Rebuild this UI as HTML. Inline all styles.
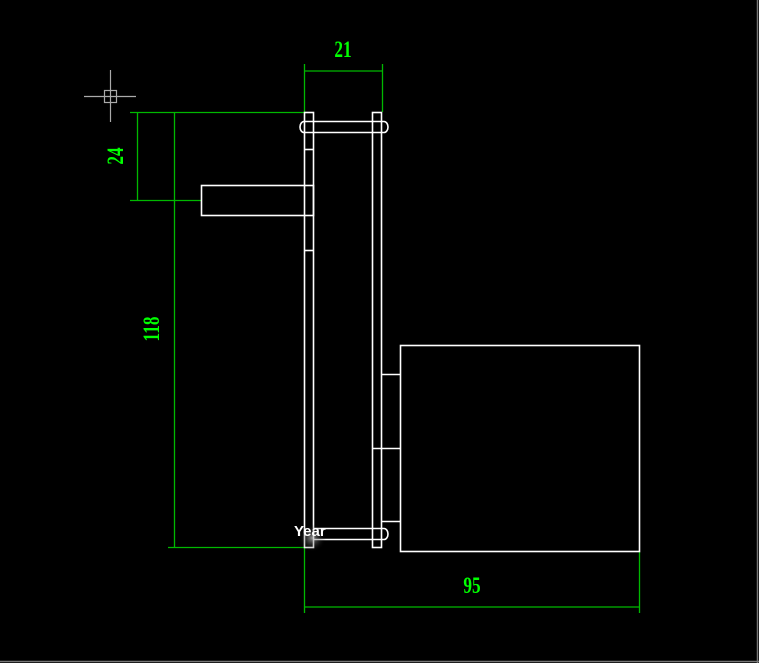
<!DOCTYPE html>
<html><head><meta charset="utf-8"><style>
html,body{margin:0;padding:0;background:#000;width:759px;height:663px;overflow:hidden}
svg{display:block}
.d{font-family:"Liberation Serif",serif;fill:#00ff00;font-size:23px;font-weight:bold}
</style></head><body>
<svg width="759" height="663" viewBox="0 0 759 663" xmlns="http://www.w3.org/2000/svg">
<rect width="759" height="663" fill="#000"/>
<line x1="757.5" y1="0" x2="757.5" y2="663" stroke="#777" stroke-width="1.5"/>
<line x1="0" y1="661.5" x2="759" y2="661.5" stroke="#777" stroke-width="1.5"/>
<g stroke="#aaa" stroke-width="1.2" fill="none">
<line x1="84" y1="96.5" x2="136" y2="96.5"/><line x1="110.5" y1="70" x2="110.5" y2="122"/>
<rect x="104.5" y="90.5" width="12" height="12"/>
</g>
<g stroke="#00b800" stroke-width="1.3" fill="none">
<line x1="304.5" y1="64" x2="304.5" y2="112"/><line x1="382.5" y1="64" x2="382.5" y2="112"/>
<line x1="304" y1="71" x2="383" y2="71"/>
<line x1="130" y1="112.5" x2="305" y2="112.5"/>
<line x1="130" y1="200.5" x2="202" y2="200.5"/>
<line x1="137.5" y1="112" x2="137.5" y2="201"/>
<line x1="174.5" y1="112" x2="174.5" y2="548"/>
<line x1="168" y1="547.5" x2="304" y2="547.5"/>
<line x1="304.5" y1="548" x2="304.5" y2="613"/>
<line x1="639.5" y1="552" x2="639.5" y2="613"/>
<line x1="304" y1="607" x2="640" y2="607"/>
</g>
<text class="d" x="343" y="57" text-anchor="middle" transform="translate(343 0) scale(0.75 1) translate(-343 0)">21</text>
<text class="d" x="472" y="593" text-anchor="middle" transform="translate(472 0) scale(0.75 1) translate(-472 0)">95</text>
<text class="d" text-anchor="middle" transform="translate(123 156) rotate(-90) scale(0.75 1)">24</text>
<text class="d" text-anchor="middle" transform="translate(159 329) rotate(-90) scale(0.75 1)">118</text>
<g stroke="#fff" stroke-width="1.6" fill="none">
<rect x="304.5" y="112.5" width="9" height="435"/>
<rect x="372.5" y="112.5" width="9" height="435"/>
<path d="M304 121.5 H384 A4 5.5 0 0 1 384 132.5 H304 A4 5.5 0 0 1 304 121.5 Z"/>
<path d="M313 528.5 H384 A4 5.5 0 0 1 384 539.5 H313"/>
<line x1="304" y1="149.5" x2="313" y2="149.5"/>
<line x1="304" y1="250.5" x2="313" y2="250.5"/>
<rect x="201.5" y="185.5" width="112" height="30"/>
<rect x="400.5" y="345.5" width="239" height="206"/>
<line x1="381" y1="374.5" x2="400" y2="374.5"/>
<line x1="372" y1="448.5" x2="400" y2="448.5"/>
<line x1="381" y1="521.5" x2="400" y2="521.5"/>
</g>
<defs><radialGradient id="g"><stop offset="0" stop-color="#ccc" stop-opacity=".7"/><stop offset="1" stop-color="#000" stop-opacity="0"/></radialGradient></defs>
<circle cx="312" cy="538" r="14" fill="url(#g)"/>
<text x="294" y="536" font-family="Liberation Sans,sans-serif" font-size="15" font-weight="bold" fill="#fff">Year</text>
</svg>
</body></html>
